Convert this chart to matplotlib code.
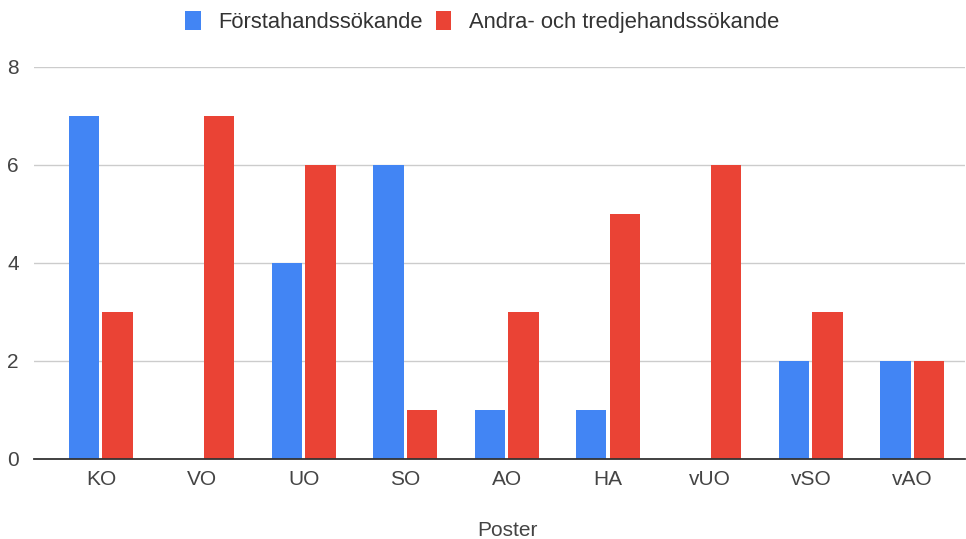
import matplotlib
matplotlib.use("Agg")
import matplotlib.pyplot as plt
from matplotlib.patches import Patch
import numpy as np

categories = ["KO", "VO", "UO", "SO", "AO", "HA", "vUO", "vSO", "vAO"]
forsta = [7, 0, 4, 6, 1, 1, 0, 2, 2]
andra = [3, 7, 6, 1, 3, 5, 6, 3, 2]
series_names = ["Förstahandssökande", "Andra- och tredjehandssökande"]
yticks = [0, 2, 4, 6, 8]

plt.rcParams['font.family'] = ['Liberation Sans', 'DejaVu Sans']

blue = "#4285F4"
red = "#EA4335"

fig = plt.figure(figsize=(9.66, 5.39), dpi=100)
ax = fig.add_axes([34/966, 1-459/539, (965-34)/966, (459-67)/539])

x = np.arange(len(categories))
w = 0.30
off = 0.165
ax.bar(x - off, forsta, width=w, color=blue, zorder=3)
ax.bar(x + off, andra, width=w, color=red, zorder=3)

ax.set_xlim(-0.66, 8.52)
ax.set_ylim(0, 8)
ax.set_yticks(yticks)
ax.set_yticklabels([str(v) for v in yticks])
ax.set_xticks(x)
ax.set_xticklabels(categories)
ax.grid(axis='y', color='#cccccc', linewidth=1, zorder=0)
for s in ['top', 'right', 'left']:
    ax.spines[s].set_visible(False)
ax.spines['bottom'].set_color('#333333')
ax.spines['bottom'].set_linewidth(1.3)
ax.spines['bottom'].set_zorder(4)
ax.tick_params(axis='both', length=0, labelsize=15, colors='#444444')
ax.tick_params(axis='y', pad=11)
ax.tick_params(axis='x', pad=8)
fig.text(507/966, 1-530/539, "Poster", fontsize=15, color='#444444', ha='center', va='center')

handles = [Patch(facecolor=blue, edgecolor='none'), Patch(facecolor=red, edgecolor='none')]
fig.legend(handles, series_names, loc='center', bbox_to_anchor=(0.499, 1-22/539),
           ncol=2, frameon=False, fontsize=15.8, handlelength=0.7, handleheight=1.0,
           handletextpad=0.8, columnspacing=0.6, labelcolor='#333333')

fig.savefig("out.png", dpi=100)
